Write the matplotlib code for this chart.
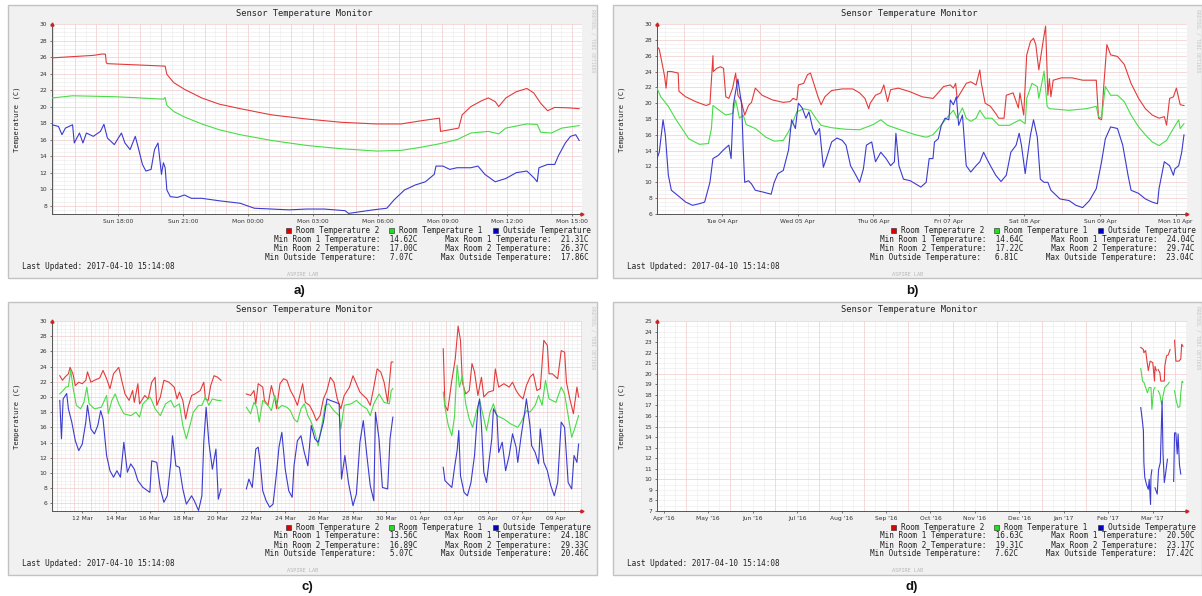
import numpy as np
import matplotlib
matplotlib.use("Agg")
import matplotlib.pyplot as plt
from matplotlib.patches import Rectangle

nan = float("nan")

W, H = 1202, 596
MONO = "DejaVu Sans Mono"

RED = "#e33b3b"
GREEN = "#48dc48"
BLUE = "#3b3bd0"

# ---------------- panel a: last day (hours since Sun 00:00) ----------------
a_room2_t = [14.95, 16.22, 16.86, 17.27, 17.42, 17.46, 17.51, 20.18, 20.26, 20.58, 21.07, 21.87,
             22.68, 23.65, 25.10, 26.72, 28.33, 29.95, 31.08, 32.05, 32.86, 32.91, 33.34, 33.75,
             33.91, 34.31, 34.80, 35.12, 35.44, 35.60, 35.93, 36.41, 36.90, 37.22, 37.54, 37.86,
             38.19, 38.84, 39.32]
a_room2 = [25.9, 26.1, 26.2, 26.37, 26.35, 25.3, 25.2, 24.9, 23.9, 22.9, 22.1, 21.05,
           20.3, 19.75, 19.0, 18.5, 18.1, 17.9, 17.9, 18.3, 18.6, 17.0, 17.2, 17.4,
           19.0, 20.0, 20.7, 21.05, 20.6, 20.0, 21.05, 21.8, 22.2, 21.65, 20.4, 19.5,
           19.9, 19.85, 19.75]
a_room1_t = [14.95, 15.90, 17.83, 18.64, 20.10, 20.18, 20.26, 20.58, 21.07, 21.87, 22.68, 23.65,
             25.10, 26.72, 28.33, 29.95, 31.08, 32.05, 32.86, 33.67, 34.31, 35.12, 35.60, 35.93,
             36.90, 37.38, 37.54, 38.03, 38.52, 39.32]
a_room1 = [21.05, 21.31, 21.2, 21.1, 20.9, 21.1, 20.15, 19.4, 18.75, 17.9, 17.2, 16.6,
           15.9, 15.3, 14.9, 14.62, 14.7, 15.1, 15.5, 16.0, 16.8, 17.0, 16.7, 17.4,
           17.9, 17.85, 16.9, 16.8, 17.4, 17.7]
a_out_t = [14.95, 15.25, 15.41, 15.57, 15.90, 15.98, 16.22, 16.38, 16.54, 16.86, 17.19, 17.35,
           17.51, 17.83, 18.16, 18.32, 18.56, 18.80, 18.96, 19.13, 19.29, 19.53, 19.69, 19.85,
           20.01, 20.10, 20.18, 20.26, 20.42, 20.74, 21.07, 21.39, 21.87, 22.68, 23.65, 24.30,
           25.10, 25.91, 26.72, 27.53, 28.50, 28.66, 29.79, 30.43, 30.76, 31.24, 31.73, 32.21,
           32.62, 32.70, 33.02, 33.34, 33.67, 34.31, 34.64, 34.96, 35.44, 35.93, 36.41, 36.90,
           37.22, 37.38, 37.46, 37.86, 38.19, 38.35, 38.68, 38.92, 39.16, 39.32]
a_out = [17.8, 17.6, 16.6, 17.4, 17.8, 15.6, 16.8, 15.6, 16.8, 16.4, 17.0, 17.86,
         16.2, 15.4, 16.8, 15.6, 14.8, 16.4, 14.8, 13.0, 12.2, 12.4, 14.8, 15.6,
         11.8, 13.2, 12.6, 9.9, 9.1, 9.0, 9.3, 8.9, 8.9, 8.6, 8.3, 7.7,
         7.6, 7.5, 7.6, 7.6, 7.4, 7.07, 7.5, 7.7, 8.7, 9.9, 10.5, 10.9,
         11.8, 12.8, 12.8, 12.4, 12.6, 12.6, 12.8, 11.8, 10.9, 11.3, 12.0, 12.2,
         11.4, 10.9, 12.6, 13.0, 13.0, 14.0, 15.6, 16.4, 16.6, 15.9]
a_xticks = [18, 21, 24, 27, 30, 33, 36, 39]
a_xlabels = ["Sun 18:00", "Sun 21:00", "Mon 00:00", "Mon 03:00", "Mon 06:00",
             "Mon 09:00", "Mon 12:00", "Mon 15:00"]
a_stats = [14.62, 17.00, 7.07, 21.31, 26.37, 17.86]

# ---------------- panel b: last week (days since Mon 03 Apr 00:00) ----------------
b_room2_t = [0.64, 0.67, 0.72, 0.74, 0.76, 0.78, 0.83, 0.92, 0.93, 1.02, 1.15, 1.29, 1.34, 1.38,
             1.385, 1.43, 1.48, 1.52, 1.55, 1.59, 1.64, 1.68, 1.71, 1.75, 1.80, 1.85, 1.89, 1.94,
             2.03, 2.17, 2.31, 2.40, 2.44, 2.49, 2.51, 2.58, 2.63, 2.67, 2.72, 2.77, 2.81, 2.86,
             2.95, 3.09, 3.23, 3.32, 3.39, 3.44, 3.46, 3.53, 3.60, 3.64, 3.69, 3.73, 3.83, 3.97,
             4.15, 4.29, 4.33, 4.43, 4.52, 4.56, 4.59, 4.61, 4.68, 4.73, 4.79, 4.86, 4.91, 4.93,
             4.98, 5.05, 5.12, 5.16, 5.23, 5.26, 5.35, 5.42, 5.44, 5.49, 5.53, 5.58, 5.62, 5.65,
             5.69, 5.74, 5.78, 5.81, 5.83, 5.85, 5.88, 5.99, 6.13, 6.27, 6.45, 6.48, 6.52, 6.55,
             6.59, 6.64, 6.73, 6.82, 6.91, 7.01, 7.10, 7.19, 7.28, 7.35, 7.38, 7.42, 7.47, 7.51,
             7.56, 7.61]
b_room2 = [27.2, 26.8, 24.4, 23.4, 21.9, 24.0, 24.0, 23.8, 21.5, 20.8, 20.2, 19.7, 19.9, 26.0,
           24.0, 24.4, 24.6, 24.4, 20.8, 20.6, 21.9, 23.8, 21.0, 20.4, 18.5, 19.7, 20.1, 21.9,
           21.0, 20.4, 20.1, 20.2, 20.6, 20.4, 22.3, 22.5, 23.6, 23.8, 22.3, 20.8, 19.8, 20.8,
           21.6, 21.8, 21.8, 21.3, 20.6, 19.3, 20.0, 21.0, 21.3, 22.3, 20.2, 21.7, 21.9, 21.5,
           20.8, 20.6, 21.0, 22.1, 22.3, 21.9, 22.5, 20.6, 21.7, 22.5, 22.7, 22.3, 24.2, 22.5,
           20.0, 19.6, 18.7, 18.1, 18.1, 21.0, 21.3, 19.4, 21.3, 18.5, 26.1, 27.8, 28.2, 27.4,
           24.2, 27.4, 29.74, 21.0, 23.1, 20.8, 22.9, 23.2, 23.2, 22.9, 22.9, 18.1, 17.9, 22.3,
           27.4, 26.1, 25.9, 24.9, 22.5, 20.6, 19.3, 18.5, 18.1, 18.3, 17.22, 20.6, 20.8, 21.9,
           19.8, 19.7]
b_room1_t = [0.64, 0.69, 0.79, 0.88, 0.97, 1.06, 1.20, 1.32, 1.36, 1.38, 1.45, 1.55, 1.64, 1.68,
             1.73, 1.78, 1.82, 1.94, 2.08, 2.19, 2.31, 2.38, 2.44, 2.49, 2.58, 2.67, 2.74, 2.81,
             2.95, 3.14, 3.32, 3.50, 3.60, 3.69, 3.87, 4.06, 4.20, 4.29, 4.38, 4.47, 4.56, 4.61,
             4.68, 4.73, 4.79, 4.86, 4.91, 4.98, 5.07, 5.16, 5.30, 5.44, 5.51, 5.53, 5.60, 5.67,
             5.69, 5.76, 5.80, 5.83, 6.09, 6.32, 6.45, 6.48, 6.52, 6.57, 6.64, 6.73, 6.82, 6.91,
             7.01, 7.10, 7.19, 7.28, 7.38, 7.47, 7.54, 7.56, 7.61]
b_room1 = [21.9, 20.8, 19.6, 18.1, 16.8, 15.5, 14.8, 14.9, 16.8, 19.7, 19.2, 18.5, 18.7, 20.4,
           18.1, 18.5, 17.3, 16.8, 15.7, 15.2, 15.3, 16.4, 17.7, 18.9, 19.3, 19.1, 18.1, 17.2,
           16.9, 16.7, 16.64, 17.3, 17.9, 17.2, 16.6, 16.0, 15.7, 16.0, 17.0, 18.1, 19.1, 18.1,
           19.4, 18.1, 17.7, 18.1, 19.1, 18.1, 18.1, 17.2, 17.2, 17.9, 17.4, 20.6, 22.5, 22.1,
           20.6, 24.04, 19.6, 19.3, 19.1, 19.3, 19.6, 18.3, 18.1, 22.1, 21.0, 21.0, 20.2, 18.5,
           17.0, 16.0, 15.1, 14.64, 15.3, 16.8, 17.9, 16.8, 17.4]
b_out_t = [0.64, 0.67, 0.72, 0.75, 0.79, 0.83, 0.92, 1.02, 1.11, 1.20, 1.27, 1.34, 1.38, 1.45,
           1.52, 1.59, 1.62, 1.65, 1.68, 1.71, 1.73, 1.76, 1.78, 1.80, 1.85, 1.89, 1.94, 2.03,
           2.15, 2.19, 2.24, 2.31, 2.38, 2.42, 2.47, 2.51, 2.56, 2.61, 2.65, 2.70, 2.74, 2.79,
           2.84, 2.88, 2.95, 3.02, 3.09, 3.14, 3.20, 3.27, 3.32, 3.37, 3.41, 3.48, 3.53, 3.60,
           3.67, 3.73, 3.78, 3.80, 3.84, 3.90, 3.99, 4.06, 4.13, 4.20, 4.24, 4.29, 4.31, 4.36,
           4.40, 4.45, 4.50, 4.52, 4.56, 4.60, 4.63, 4.68, 4.73, 4.79, 4.86, 4.91, 4.96, 5.00,
           5.05, 5.12, 5.19, 5.26, 5.32, 5.39, 5.43, 5.46, 5.51, 5.53, 5.58, 5.62, 5.67, 5.71,
           5.76, 5.81, 5.85, 5.97, 6.09, 6.18, 6.27, 6.36, 6.45, 6.52, 6.57, 6.64, 6.73, 6.80,
           6.87, 6.91, 7.01, 7.10, 7.19, 7.26, 7.28, 7.35, 7.42, 7.47, 7.49, 7.54, 7.58, 7.61]
b_out = [13.0, 13.8, 17.9, 16.0, 10.9, 9.0, 8.3, 7.5, 7.1, 7.3, 7.5, 10.0, 13.0, 13.4,
         14.1, 14.7, 13.0, 19.8, 21.5, 23.04, 21.7, 19.8, 14.3, 10.0, 10.2, 9.8, 9.0, 8.8,
         8.5, 10.0, 11.1, 11.5, 14.1, 17.9, 16.8, 20.0, 19.4, 18.1, 18.9, 16.8, 16.0, 16.8,
         11.9, 13.0, 15.1, 15.6, 15.3, 14.7, 12.1, 10.9, 10.0, 11.7, 14.7, 15.1, 12.6, 13.8,
         13.0, 12.1, 12.6, 16.2, 12.1, 10.4, 10.2, 9.8, 9.4, 10.0, 13.0, 13.0, 15.1, 15.5,
         17.2, 18.1, 17.9, 20.4, 19.8, 20.8, 17.2, 18.5, 12.1, 11.3, 12.1, 12.6, 13.8, 13.0,
         12.1, 10.9, 10.1, 10.9, 13.8, 14.7, 16.2, 14.7, 11.1, 12.6, 16.0, 17.9, 15.7, 10.4,
         10.0, 10.0, 9.0, 7.9, 7.7, 7.1, 6.81, 7.7, 9.2, 12.6, 15.5, 17.0, 16.8, 14.7,
         10.9, 9.0, 8.6, 7.9, 7.5, 7.3, 9.2, 12.6, 12.1, 10.9, 11.7, 12.1, 13.8, 16.0]
b_xticks = [1.5, 2.5, 3.5, 4.5, 5.5, 6.5, 7.5]
b_xlabels = ["Tue 04 Apr", "Wed 05 Apr", "Thu 06 Apr", "Fri 07 Apr", "Sat 08 Apr",
             "Sun 09 Apr", "Mon 10 Apr"]
b_stats = [14.64, 17.22, 6.81, 24.04, 29.74, 23.04]

# ---------------- panel c: last month (day of March, Apr 1 = 32) ----------------
c_room2_t = [10.67, 10.83, 10.97, 11.18, 11.28, 11.45, 11.59, 11.79, 12.00, 12.21, 12.31, 12.51,
             12.72, 13.03, 13.23, 13.44, 13.64, 13.85, 14.16, 14.36, 14.53, 14.77, 14.98, 15.08,
             15.29, 15.39, 15.70, 15.90, 16.11, 16.31, 16.41, 16.62, 16.83, 17.13, 17.44, 17.61,
             17.75, 17.95, 18.12, 18.26, 18.47, 18.67, 18.98, 19.19, 19.29, 19.45, 19.60, 19.80,
             20.01, 20.21, 20.5,
             21.71, 21.96, 22.16, 22.27, 22.41, 22.68, 22.78, 22.99, 23.19, 23.40, 23.50, 23.70,
             23.91, 24.11, 24.32, 24.53, 24.73, 25.04, 25.20, 25.45, 25.66, 25.86, 26.07, 26.27,
             26.48, 26.68, 26.89, 27.09, 27.30, 27.50, 27.81, 28.02, 28.22, 28.43, 28.63, 28.84,
             29.04, 29.25, 29.45, 29.66, 29.86, 30.07, 30.28, 30.38, 31.0,
             33.36, 33.46, 33.62, 33.87, 34.07, 34.24, 34.38, 34.49, 34.69, 34.90, 35.06, 35.21,
             35.41, 35.62, 35.76, 36.03, 36.33, 36.44, 36.64, 36.95, 37.26, 37.46, 37.67, 37.87,
             38.08, 38.28, 38.49, 38.69, 38.90, 39.10, 39.31, 39.52, 39.62, 39.82, 40.13, 40.34,
             40.54, 40.65, 40.85, 41.06, 41.27, 41.37]
c_room2 = [22.8, 22.2, 22.6, 23.05, 23.9, 23.05, 21.5, 21.95, 21.75, 22.2, 23.3, 21.95,
           22.2, 22.5, 23.5, 22.4, 21.1, 23.05, 23.9, 21.95, 20.4, 19.55, 20.85, 19.3,
           21.75, 19.1, 20.2, 19.75, 21.95, 22.6, 18.9, 20.0, 22.2, 21.95, 21.3, 19.75,
           20.65, 19.55, 17.1, 18.65, 20.2, 20.4, 20.85, 21.95, 19.75, 19.55, 21.5, 22.8,
           22.6, 22.2, nan,
           20.4, 20.2, 20.85, 19.1, 21.75, 21.3, 19.55, 18.9, 21.5, 19.75, 18.45, 21.75,
           22.4, 22.2, 20.85, 20.0, 18.9, 21.75, 19.3, 18.9, 18.0, 16.89, 17.55, 19.75,
           20.85, 22.6, 21.95, 19.75, 18.45, 20.2, 21.3, 22.8, 21.75, 20.65, 20.2, 19.75,
           18.9, 21.3, 23.7, 23.3, 21.95, 19.3, 24.6, 24.6, nan,
           26.35, 18.9, 18.2, 22.2, 25.0, 29.33, 27.45, 21.95, 20.4, 20.85, 24.4, 23.3,
           20.2, 22.6, 20.0, 20.65, 20.85, 23.7, 21.3, 21.75, 21.3, 21.95, 20.85, 20.2,
           19.75, 21.5, 22.6, 23.05, 20.85, 21.1, 27.45, 26.8, 23.05, 23.05, 22.4, 26.1,
           25.9, 21.95, 19.75, 17.8, 21.3, 20.0]
c_room1_t = [10.67, 10.87, 11.03, 11.18, 11.32, 11.45, 11.65, 11.90, 12.10, 12.27, 12.41, 12.72,
             13.13, 13.44, 13.54, 13.75, 13.95, 14.16, 14.46, 14.87, 15.18, 15.39, 15.59, 16.00,
             16.11, 16.31, 16.62, 16.93, 17.24, 17.44, 17.75, 17.95, 18.16, 18.37, 18.57, 18.88,
             19.08, 19.29, 19.49, 19.70, 20.01, 20.21, 20.5,
             21.71, 21.96, 22.16, 22.33, 22.47, 22.68, 22.99, 23.19, 23.40, 23.60, 23.81, 24.11,
             24.32, 24.53, 24.73, 24.94, 25.14, 25.35, 25.55, 25.76, 25.96, 26.17, 26.37, 26.58,
             26.89, 27.20, 27.30, 27.50, 27.91, 28.22, 28.53, 28.84, 29.04, 29.25, 29.56, 29.86,
             30.17, 30.28, 30.38, 31.0,
             33.36, 33.46, 33.66, 33.87, 34.03, 34.18, 34.32, 34.49, 34.69, 34.90, 35.10, 35.31,
             35.51, 35.72, 35.92, 36.13, 36.33, 36.54, 36.95, 37.36, 37.77, 37.97, 38.28, 38.49,
             38.80, 39.00, 39.21, 39.41, 39.62, 40.03, 40.34, 40.54, 40.75, 40.96, 41.16, 41.37]
c_room1 = [20.4, 20.85, 21.3, 21.4, 23.5, 21.3, 18.9, 18.45, 19.3, 21.3, 19.1, 18.45,
           18.65, 20.2, 17.8, 19.55, 20.4, 19.1, 17.8, 17.55, 18.0, 17.35, 19.1, 20.0,
           19.55, 18.45, 17.55, 19.1, 19.55, 18.65, 19.1, 16.25, 14.5, 16.25, 18.0, 18.9,
           18.9, 20.0, 18.9, 19.75, 19.55, 19.55, nan,
           18.65, 17.8, 19.3, 18.65, 16.7, 19.55, 18.9, 18.2, 20.2, 18.45, 18.9, 18.65,
           18.2, 17.1, 16.7, 18.45, 19.1, 17.55, 16.7, 15.35, 13.56, 16.25, 18.9, 19.1,
           18.2, 17.55, 15.8, 18.9, 19.1, 19.55, 18.9, 18.45, 17.55, 19.1, 20.4, 19.3,
           19.1, 20.85, 21.1, nan,
           20.65, 18.65, 16.25, 14.9, 17.55, 24.18, 21.3, 22.8, 19.1, 17.1, 16.0, 18.0,
           19.55, 17.55, 15.6, 18.0, 19.1, 17.55, 17.1, 16.45, 16.0, 16.7, 18.2, 18.0,
           18.9, 20.2, 18.9, 22.2, 19.75, 19.3, 21.3, 20.4, 17.55, 14.7, 16.0, 17.55]
c_out_t = [10.67, 10.77, 10.87, 11.08, 11.18, 11.38, 11.59, 11.79, 12.00, 12.21, 12.31, 12.51,
           12.72, 12.92, 13.09, 13.23, 13.44, 13.64, 13.85, 14.05, 14.26, 14.46, 14.67, 14.87,
           15.08, 15.29, 15.59, 16.00, 16.11, 16.41, 16.62, 16.83, 17.03, 17.24, 17.34, 17.54,
           17.75, 17.95, 18.16, 18.47, 18.63, 18.88, 19.08, 19.19, 19.33, 19.49, 19.70, 19.91,
           20.05, 20.21, 20.5,
           21.71, 21.86, 22.06, 22.27, 22.41, 22.53, 22.68, 22.88, 23.09, 23.29, 23.50, 23.64,
           23.81, 24.01, 24.22, 24.42, 24.53, 24.73, 24.94, 25.14, 25.35, 25.55, 25.76, 25.96,
           26.27, 26.48, 26.68, 26.99, 27.20, 27.34, 27.54, 27.75, 28.02, 28.22, 28.43, 28.63,
           28.84, 29.04, 29.25, 29.35, 29.56, 29.76, 30.07, 30.21, 30.38, 31.0,
           33.36, 33.46, 33.66, 33.87, 34.03, 34.18, 34.28, 34.38, 34.59, 34.79, 35.00, 35.21,
           35.41, 35.51, 35.62, 35.76, 35.92, 36.23, 36.33, 36.54, 36.64, 36.85, 37.05, 37.26,
           37.46, 37.67, 37.77, 37.97, 38.18, 38.28, 38.49, 38.59, 38.80, 39.00, 39.10, 39.31,
           39.52, 39.72, 39.93, 40.13, 40.34, 40.54, 40.75, 40.96, 41.10, 41.27, 41.37]
c_out = [19.55, 14.5, 19.75, 20.46, 18.45, 16.7, 14.25, 12.95, 13.8, 16.7, 18.9, 15.8,
         15.15, 16.25, 18.2, 17.1, 12.3, 10.3, 9.45, 10.3, 9.45, 14.05, 10.1, 11.2,
         10.5, 9.0, 8.1, 7.45, 11.6, 11.4, 7.9, 6.15, 7.0, 11.4, 14.9, 10.95,
         10.75, 7.9, 5.9, 7.0, 6.35, 5.07, 7.0, 14.05, 18.65, 14.05, 10.5, 13.15,
         6.55, 7.9, nan,
         7.9, 9.2, 8.1, 13.15, 13.4, 11.4, 7.65, 6.35, 5.5, 5.9, 10.1, 13.4,
         15.35, 10.5, 7.65, 6.8, 10.95, 14.25, 14.9, 12.7, 10.95, 16.25, 14.5, 14.05,
         16.7, 19.75, 19.55, 19.3, 19.1, 9.2, 12.3, 8.75, 5.7, 7.25, 14.05, 16.9,
         12.3, 8.35, 6.35, 18.0, 14.5, 8.1, 7.9, 14.5, 17.35, nan,
         10.75, 9.0, 8.55, 8.1, 10.75, 12.95, 15.6, 9.65, 7.45, 7.0, 8.75, 12.3,
         18.65, 19.75, 16.25, 10.1, 8.75, 14.5, 18.45, 17.55, 12.7, 14.05, 10.3, 12.3,
         15.15, 13.4, 11.4, 14.9, 18.0, 19.75, 16.25, 13.6, 12.7, 11.2, 15.8, 11.4,
         10.3, 8.35, 7.0, 8.75, 16.7, 16.0, 8.75, 7.9, 12.3, 11.4, 13.8]
c_xticks = [12, 14, 16, 18, 20, 22, 24, 26, 28, 30, 32, 34, 36, 38, 40]
c_xlabels = ["12 Mar", "14 Mar", "16 Mar", "18 Mar", "20 Mar", "22 Mar", "24 Mar", "26 Mar",
             "28 Mar", "30 Mar", "01 Apr", "03 Apr", "05 Apr", "07 Apr", "09 Apr"]
c_stats = [13.56, 16.89, 5.07, 24.18, 29.33, 20.46]

# ---------------- panel d: last year (months since 1 Apr 2016) ----------------
d_room2_t = [11.23, 11.29, 11.30, 11.34, 11.37, 11.40, 11.44, 11.50, 11.54, 11.55, 11.58, 11.59,
             11.62, 11.66, 11.68, 11.76, 11.77, 11.81, 11.85, 11.89, 11.93,
             11.99, 12.02, 12.09, 12.13, 12.15, 12.18]
d_room2 = [22.5, 22.3, 22.0, 22.2, 21.2, 20.3, 21.2, 21.05, 19.31, 20.7, 20.3, nan,
           20.4, 20.1, 19.31, 19.31, 20.7, 21.7, 21.8, 22.3, nan,
           23.17, 21.2, 21.2, 21.4, 22.8, 22.6]
d_room1_t = [11.23, 11.27, 11.30, 11.34, 11.38, 11.42, 11.46, 11.48, 11.52, 11.55, 11.59,
             11.62, 11.66, 11.70, 11.73, 11.77, 11.84, 11.87, 11.93,
             11.99, 12.03, 12.07, 12.11, 12.13, 12.16, 12.18]
d_room1 = [20.5, 19.3, 19.2, 18.7, 18.2, 18.7, 18.7, 16.63, 18.5, 18.7, nan,
           18.4, 18.05, 17.1, 17.9, 18.7, 19.0, 19.2, nan,
           18.4, 17.4, 16.8, 16.9, 18.2, 19.3, 19.2]
d_out_t = [11.23, 11.27, 11.29, 11.30, 11.32, 11.36, 11.40, 11.42, 11.45, 11.46, 11.48, 11.52,
           11.55, 11.60, 11.63, 11.67, 11.71, 11.73, 11.76, 11.79, 11.83, 11.93,
           11.97, 11.99, 12.02, 12.05, 12.07, 12.10, 12.13]
d_out = [16.8, 15.4, 14.6, 11.6, 10.2, 9.5, 9.05, 10.0, 7.62, 10.3, 10.9, nan,
         9.2, 8.6, 10.9, 11.6, 17.42, 12.5, 9.7, 10.6, 11.9, nan,
         9.8, 14.4, 14.4, 12.4, 14.3, 11.4, 10.5]
d_xticks = [0.5, 1.5, 2.5, 3.5, 4.5, 5.5, 6.5, 7.5, 8.5, 9.5, 10.5, 11.5]
d_xlabels = ["Apr '16", "May '16", "Jun '16", "Jul '16", "Aug '16", "Sep '16", "Oct '16",
             "Nov '16", "Dec '16", "Jan '17", "Feb '17", "Mar '17"]
d_stats = [16.63, 19.31, 7.62, 20.50, 23.17, 17.42]

last_updated = "Last Updated: 2017-04-10 15:14:08"


def fx(x):
    return x / W


def fy(y):
    return 1 - y / H


def grid_lines(ax, lo, hi, step, vertical, color, offset=0.0):
    start = np.ceil((lo - offset) / step - 1e-9) * step + offset
    for v in np.arange(start, hi + 1e-9, step):
        if vertical:
            ax.axvline(v, color=color, lw=0.45, zorder=0.5)
        else:
            ax.axhline(v, color=color, lw=0.45, zorder=0.5)


def draw_panel(fig, ox, oy, series, xlim, ylim, xticks, xlabels, yticks,
               xminor, xmajor, xmajor_off, yminor, ymajor, stats):
    fig.patches.append(Rectangle((fx(8 + ox), fy(278 + oy)), 589 / W, 273 / H,
                                 transform=fig.transFigure, facecolor="#f1f1f1",
                                 edgecolor="#c2c2c2", lw=1.0, zorder=-5))
    ax = fig.add_axes([fx(52 + ox), fy(214 + oy), 530 / W, 190 / H])
    ax.set_facecolor("white")
    ax.set_xlim(*xlim)
    ax.set_ylim(*ylim)

    grid_lines(ax, xlim[0], xlim[1], xminor, True, "#ececec")
    grid_lines(ax, ylim[0], ylim[1], yminor, False, "#ececec")
    grid_lines(ax, xlim[0], xlim[1], xmajor, True, "#f6cccc", xmajor_off)
    grid_lines(ax, ylim[0], ylim[1], ymajor, False, "#f6cccc")

    for t, v, c in series:
        ax.plot(t, v, color=c, lw=0.8, zorder=3)

    ax.set_xticks(xticks)
    ax.set_xticklabels(xlabels)
    ax.set_yticks(yticks)
    ax.set_yticklabels([str(y) for y in yticks])
    ax.tick_params(length=1.5, width=0.5, colors="#444444", labelsize=4.3, pad=2,
                   labelcolor="#333333")
    for s in ["top", "right"]:
        ax.spines[s].set_visible(False)
    for s in ["left", "bottom"]:
        ax.spines[s].set_color("#555555")
        ax.spines[s].set_linewidth(0.7)
    ax.plot([xlim[1]], [ylim[0]], marker=">", color="#cc2222", ms=2.2, clip_on=False, zorder=5)
    ax.plot([xlim[0]], [ylim[1]], marker="^", color="#cc2222", ms=2.2, clip_on=False, zorder=5)

    txt = dict(family=MONO, color="#222222")
    fig.text(fx(304 + ox), fy(13 + oy), "Sensor Temperature Monitor", fontsize=6.3,
             ha="center", va="center", **txt)
    fig.text(fx(17 + ox), fy(119 + oy), "Temperature (C)", fontsize=5.2, rotation=90,
             ha="center", va="center", **txt)
    fig.text(fx(593 + ox), fy(41 + oy), "RRDTOOL / TOBI OETIKER", fontsize=3.4,
             rotation=270, ha="center", va="center", family=MONO, color="#c4c4c4")

    # legend row
    names = ["Room Temperature 2", "Room Temperature 1", "Outside Temperature"]
    boxes = ["#dd0000", "#22dd22", "#0000cc"]
    xs = [286, 389, 493]
    for x, n, c in zip(xs, names, boxes):
        fig.patches.append(Rectangle((fx(x + ox), fy(232.5 + oy)), 5 / W, 5 / H,
                                     transform=fig.transFigure, facecolor=c,
                                     edgecolor="#222222", lw=0.4, zorder=5))
        fig.text(fx(x + 10 + ox), fy(230 + oy), n, fontsize=5.55, ha="left", va="center", **txt)

    rows = [
        "Min Room 1 Temperature: {:6.2f}C      Max Room 1 Temperature: {:6.2f}C".format(stats[0], stats[3]),
        "Min Room 2 Temperature: {:6.2f}C      Max Room 2 Temperature: {:6.2f}C".format(stats[1], stats[4]),
        "Min Outside Temperature: {:6.2f}C      Max Outside Temperature: {:6.2f}C".format(stats[2], stats[5]),
    ]
    for i, r in enumerate(rows):
        fig.text(fx(589 + ox), fy(239 + 9 * i + oy), r, fontsize=5.55, ha="right",
                 va="center", **txt)
    fig.text(fx(22 + ox), fy(266 + oy), last_updated, fontsize=5.55, ha="left",
             va="center", **txt)
    fig.text(fx(303 + ox), fy(274 + oy), "ASPIRE LAB", fontsize=3.8, ha="center",
             va="center", family=MONO, color="#b8b8b8")
    return ax


fig = plt.figure(figsize=(W / 100, H / 100), dpi=100)
fig.patch.set_facecolor("white")

draw_panel(fig, 0, 0,
           [(a_room2_t, a_room2, RED), (a_room1_t, a_room1, GREEN), (a_out_t, a_out, BLUE)],
           (14.95, 39.45), (7, 30), a_xticks, a_xlabels, list(range(8, 31, 2)),
           0.5, 1.0, 0.0, 0.5, 2, a_stats)
draw_panel(fig, 605, 0,
           [(b_room2_t, b_room2, RED), (b_room1_t, b_room1, GREEN), (b_out_t, b_out, BLUE)],
           (0.64, 7.65), (6, 30), b_xticks, b_xlabels, list(range(6, 31, 2)),
           0.25, 1.0, 0.0, 0.5, 2, b_stats)
draw_panel(fig, 0, 297,
           [(c_room2_t, c_room2, RED), (c_room1_t, c_room1, GREEN), (c_out_t, c_out, BLUE)],
           (10.21, 41.57), (5, 30), c_xticks, c_xlabels, list(range(6, 31, 2)),
           0.25, 1.0, 0.5, 0.5, 2, c_stats)
draw_panel(fig, 605, 297,
           [(d_room2_t, d_room2, RED), (d_room1_t, d_room1, GREEN), (d_out_t, d_out, BLUE)],
           (0.35, 12.27), (7, 25), d_xticks, d_xlabels, list(range(7, 26)),
           0.25, 1.0, 0.0, 0.5, 5, d_stats)

for lab, x, y in [("a)", 300, 291), ("b)", 912, 291), ("c)", 307, 587), ("d)", 912, 587)]:
    fig.text(fx(x), fy(y), lab, fontsize=9.5, fontweight="bold", family="Liberation Sans",
             ha="center", va="center", color="#111111")

fig.savefig("out.png", dpi=100)
